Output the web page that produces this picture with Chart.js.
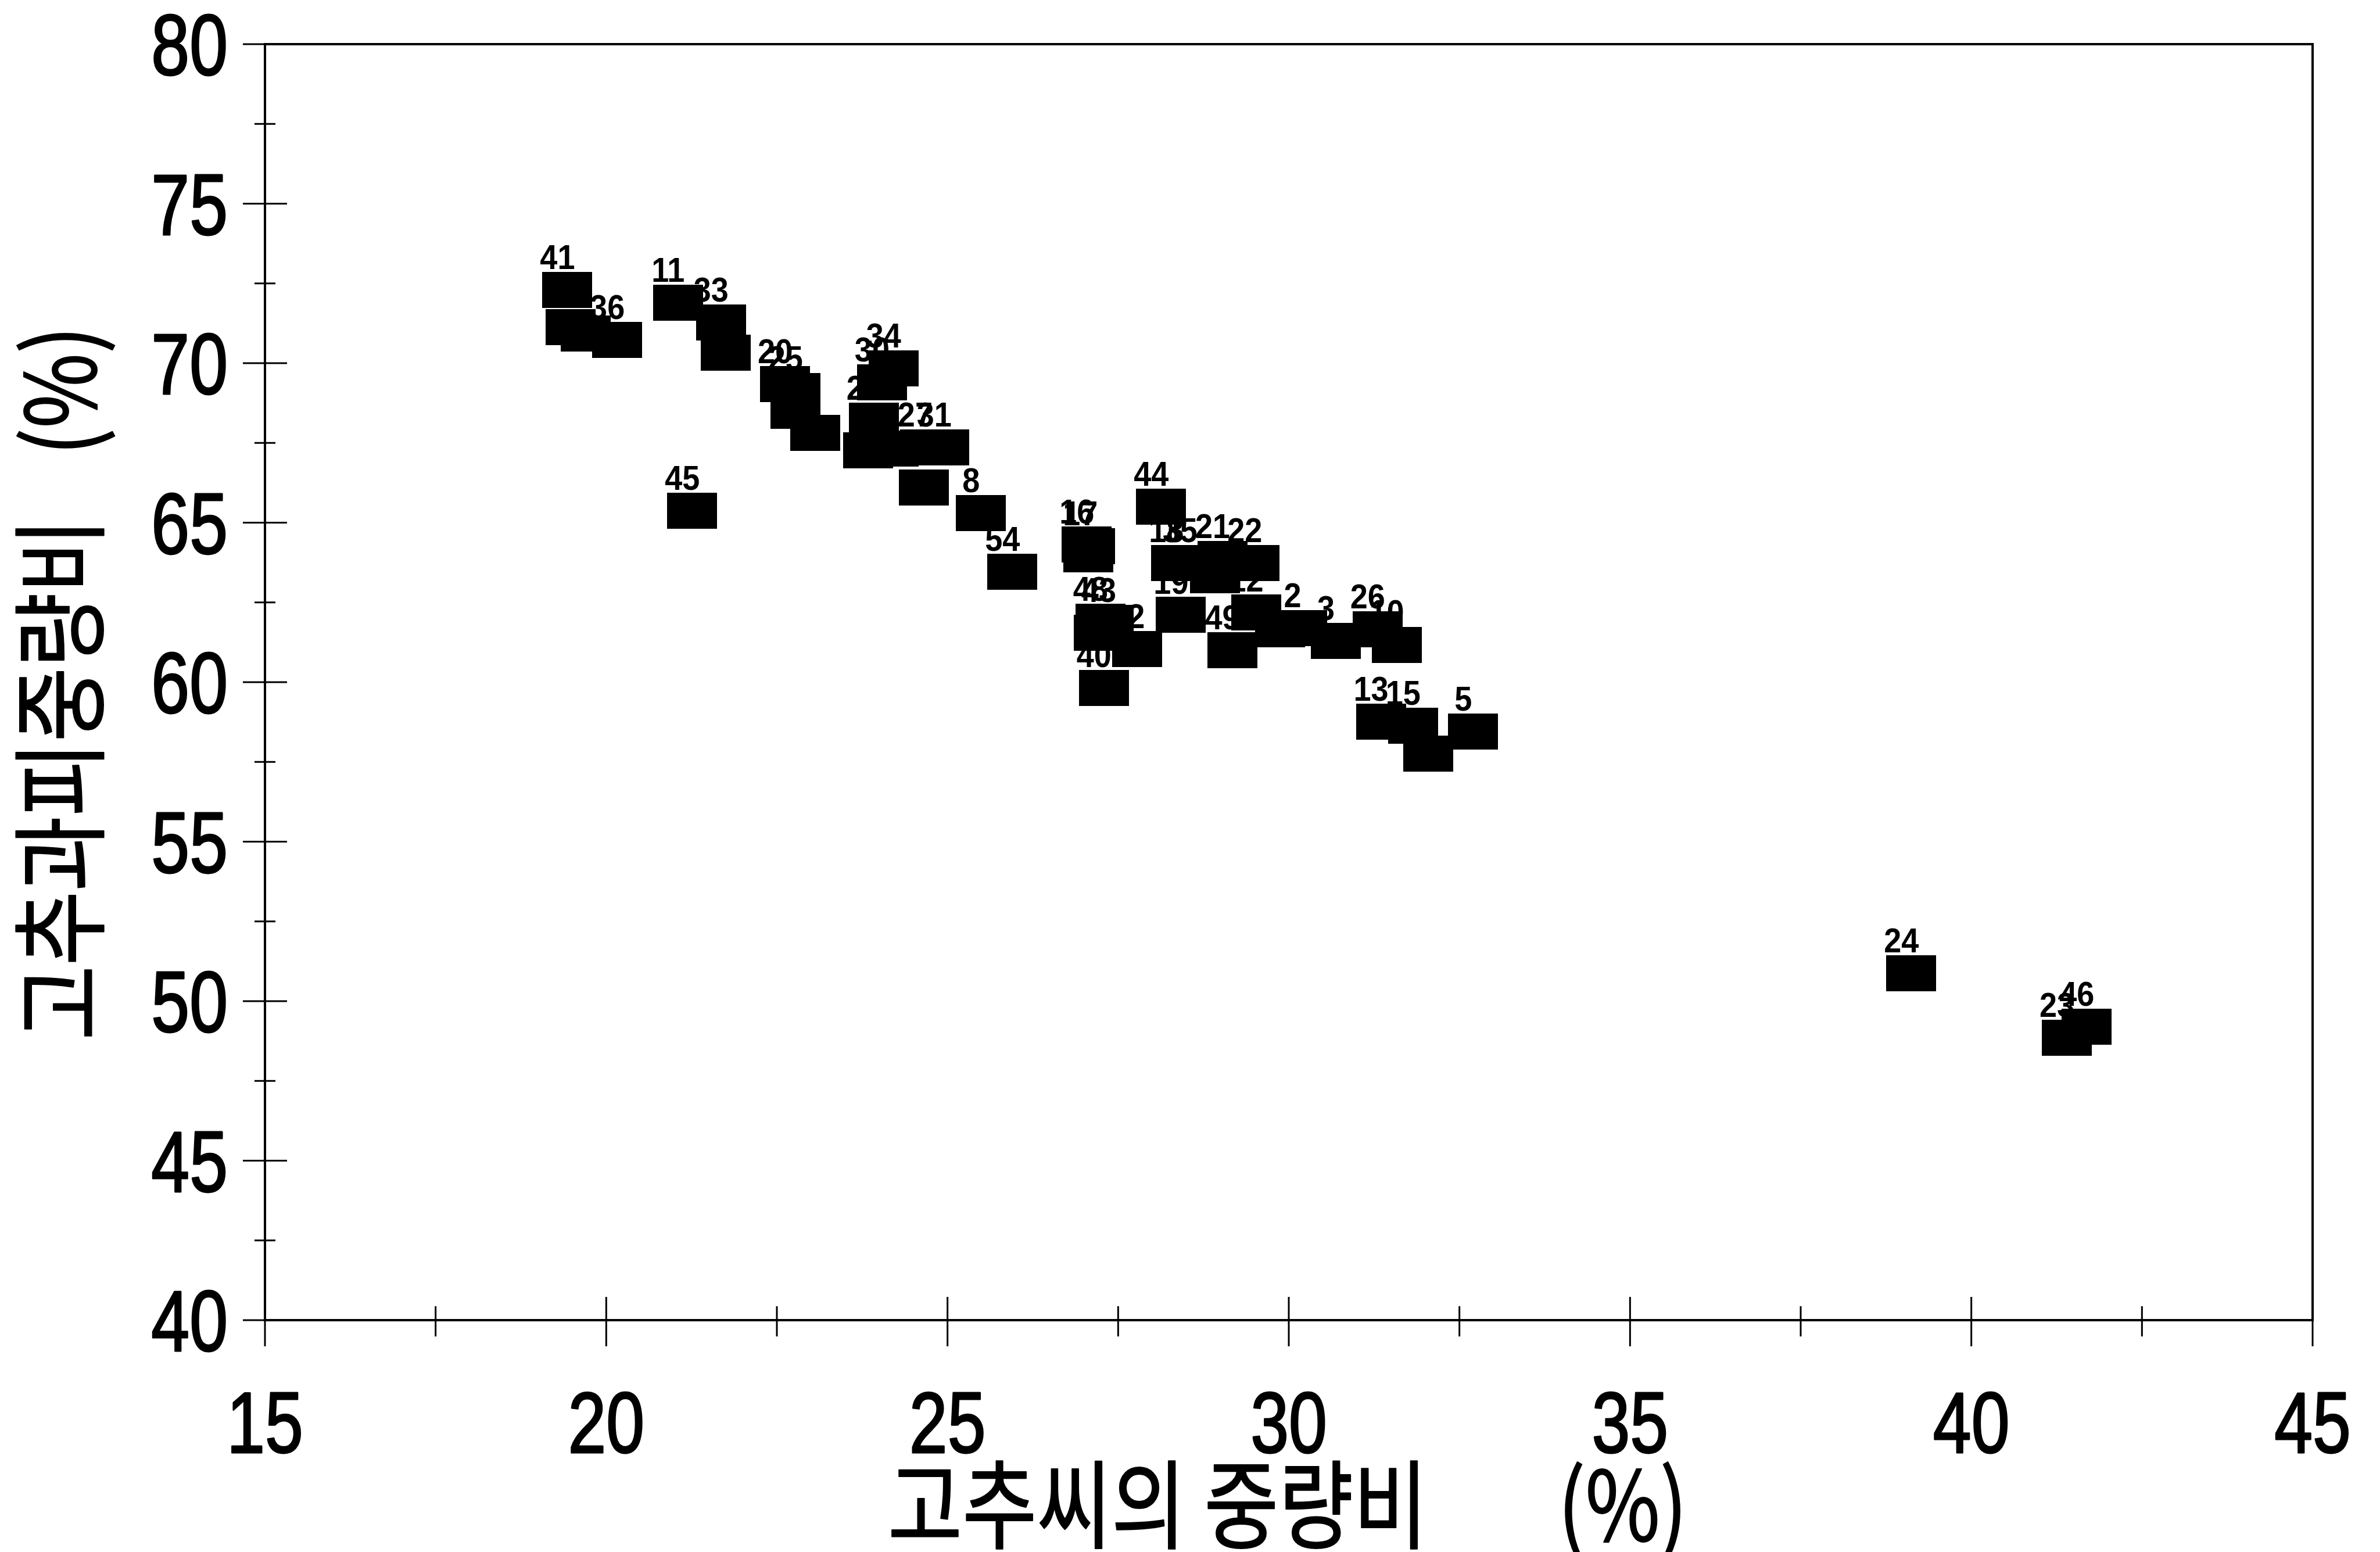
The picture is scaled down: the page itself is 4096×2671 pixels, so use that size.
<!DOCTYPE html>
<html>
<head>
<meta charset="utf-8">
<script src="https://cdn.jsdelivr.net/npm/chart.js@4.4.1/dist/chart.umd.min.js"></script>
<style>
  html, body { margin: 0; padding: 0; background: #fff; }
  #wrap { width: 4096px; height: 2671px; }
</style>
</head>
<body>
<div id="wrap"><canvas id="scatter" width="4096" height="2671"></canvas></div>
<script>
// seed weight ratio (x, %) / peel weight ratio (y, %) / sample number
const seedRatio = [19.43, 19.48, 19.70, 20.16, 21.05, 21.68, 21.75, 21.26, 22.62, 22.77,
                   22.77, 23.06, 24.21, 24.04, 23.92, 23.84, 24.21, 24.67, 24.95, 24.65,
                   25.49, 25.95, 27.04, 27.09, 27.06, 27.24, 27.36, 27.22, 27.29, 27.78,
                   28.13, 28.35, 28.55, 28.92, 29.03, 29.50, 28.42, 29.17, 29.52, 29.87,
                   30.20, 30.69, 31.30, 31.58, 31.35, 31.82, 32.04, 32.70, 39.12, 41.40, 41.69];
const peelRatio = [72.29, 71.13, 70.92, 70.73, 71.89, 71.27, 70.33, 65.38, 69.34, 69.12,
                   68.51, 67.82, 69.84, 69.40, 68.20, 67.26, 67.32, 67.35, 67.35, 66.10,
                   65.30, 63.46, 64.31, 64.27, 64.00, 61.90, 61.86, 61.54, 59.82, 61.04,
                   65.51, 63.74, 63.74, 63.36, 63.86, 63.74, 62.12, 61.00, 62.18, 61.66,
                   61.69, 61.30, 61.66, 61.16, 58.77, 58.63, 57.76, 58.46, 50.87, 48.85, 49.19];
const sampleLabels = ['41', '', '', '36', '11', '33', '', '45', '20', '25',
                      '', '', '34', '30', '29', '', '', '27', '31', '',
                      '8', '54', '16', '17', '', '48', '43', '', '40', '42',
                      '44', '18', '35', '', '21', '22', '19', '49', '12', '',
                      '2', '3', '26', '10', '13', '15', '', '5', '24', '23', '46'];

const xTicks = [15, 20, 25, 30, 35, 40, 45];
const xMinorTicks = [17.5, 22.5, 27.5, 32.5, 37.5, 42.5];
const yTicks = [40, 45, 50, 55, 60, 65, 70, 75, 80];
const yMinorTicks = [42.5, 47.5, 52.5, 57.5, 62.5, 67.5, 72.5, 77.5];

const xTitle = '고추씨의 중량비';
const yTitle = '고추과피중량비';
const unitText = '(%)';

const numFont = "'Liberation Sans', Arial, sans-serif";
const krFont = "'Noto Sans CJK KR', 'Noto Sans CJK SC', sans-serif";

// filled black rectangle used as marker
const marker = document.createElement('canvas');
marker.width = 86;
marker.height = 62;
marker.getContext('2d').fillRect(0, 0, 86, 62);

const points = seedRatio.map((x, i) => ({ x, y: peelRatio[i] }));

// narrow text: squeeze horizontally around the anchor point, optional outline to thicken
function narrowText(ctx, text, x, y, sx, align, weight) {
    ctx.save();
    ctx.translate(x, y);
    ctx.scale(sx, 1);
    ctx.textAlign = align;
    ctx.fillText(text, 0, 0);
    if (weight) {
        ctx.lineWidth = weight;
        ctx.strokeText(text, 0, 0);
    }
    ctx.restore();
}

const frameAndTicks = {
    id: 'frameAndTicks',
    afterDraw(chart) {
        const { ctx, chartArea: a, scales: { x, y } } = chart;
        ctx.save();
        ctx.strokeStyle = '#000';
        ctx.lineWidth = 4;
        ctx.strokeRect(a.left, a.top, a.right - a.left, a.bottom - a.top);
        ctx.lineWidth = 3;
        ctx.beginPath();
        xTicks.forEach(v => { const p = x.getPixelForValue(v); ctx.moveTo(p, a.bottom - 40); ctx.lineTo(p, a.bottom + 45); });
        xMinorTicks.forEach(v => { const p = x.getPixelForValue(v); ctx.moveTo(p, a.bottom - 24); ctx.lineTo(p, a.bottom + 28); });
        yTicks.forEach(v => { const p = y.getPixelForValue(v); ctx.moveTo(a.left - 38, p); ctx.lineTo(a.left + 38, p); });
        yMinorTicks.forEach(v => { const p = y.getPixelForValue(v); ctx.moveTo(a.left - 18, p); ctx.lineTo(a.left + 18, p); });
        ctx.stroke();

        // tick labels
        ctx.fillStyle = '#000';
        ctx.font = '148px ' + numFont;
        ctx.textBaseline = 'alphabetic';
        ctx.lineJoin = 'round';
        xTicks.forEach(v => narrowText(ctx, String(v), x.getPixelForValue(v), a.bottom + 228, 0.8, 'center', 3));
        yTicks.forEach(v => narrowText(ctx, String(v), a.left - 64, y.getPixelForValue(v) + 53, 0.8, 'right', 3));

        // axis titles
        const cx = (a.left + a.right) / 2;
        const cy = (a.top + a.bottom) / 2;
        ctx.font = '166px ' + krFont;
        ctx.textBaseline = 'middle';
        narrowText(ctx, xTitle, cx - 690, 2589, 0.84, 'left', 2);
        narrowText(ctx, unitText, cx + 686, 2589, 0.84, 'right', 2);

        ctx.save();
        ctx.translate(102, cy);
        ctx.rotate(-Math.PI / 2);
        narrowText(ctx, yTitle, -616, 0, 0.84, 'left', 2);
        narrowText(ctx, unitText, 613, 0, 0.84, 'right', 2);
        ctx.restore();
        ctx.restore();
    }
};

const pointLabels = {
    id: 'pointLabels',
    afterDatasetsDraw(chart) {
        const { ctx } = chart;
        const meta = chart.getDatasetMeta(0);
        ctx.save();
        ctx.fillStyle = '#000';
        ctx.font = 'bold 60px ' + numFont;
        ctx.textBaseline = 'alphabetic';
        meta.data.forEach((pt, i) => {
            if (sampleLabels[i]) narrowText(ctx, sampleLabels[i], pt.x - 17, pt.y - 36, 0.9, 'center');
        });
        ctx.restore();
    }
};

new Chart(document.getElementById('scatter'), {
    type: 'scatter',
    data: {
        datasets: [{
            data: points,
            pointStyle: marker,
            pointRadius: 30,
            pointHoverRadius: 30,
            backgroundColor: '#000',
            borderColor: '#000'
        }]
    },
    options: {
        responsive: false,
        animation: false,
        devicePixelRatio: 1,
        layout: { padding: { top: 76, right: 116, left: 0, bottom: 0 } },
        plugins: { legend: { display: false }, tooltip: { enabled: false } },
        scales: {
            x: {
                type: 'linear',
                min: 15, max: 45,
                grid: { display: false, drawTicks: false },
                border: { display: false },
                ticks: { display: false, stepSize: 5 },
                afterFit(scale) { scale.height = 399; scale.paddingLeft = 0; scale.paddingRight = 0; }
            },
            y: {
                type: 'linear',
                min: 40, max: 80,
                grid: { display: false, drawTicks: false },
                border: { display: false },
                ticks: { display: false, stepSize: 5 },
                afterFit(scale) { scale.width = 456; scale.paddingTop = 0; scale.paddingBottom = 0; }
            }
        }
    },
    plugins: [frameAndTicks, pointLabels]
});
</script>
</body>
</html>
